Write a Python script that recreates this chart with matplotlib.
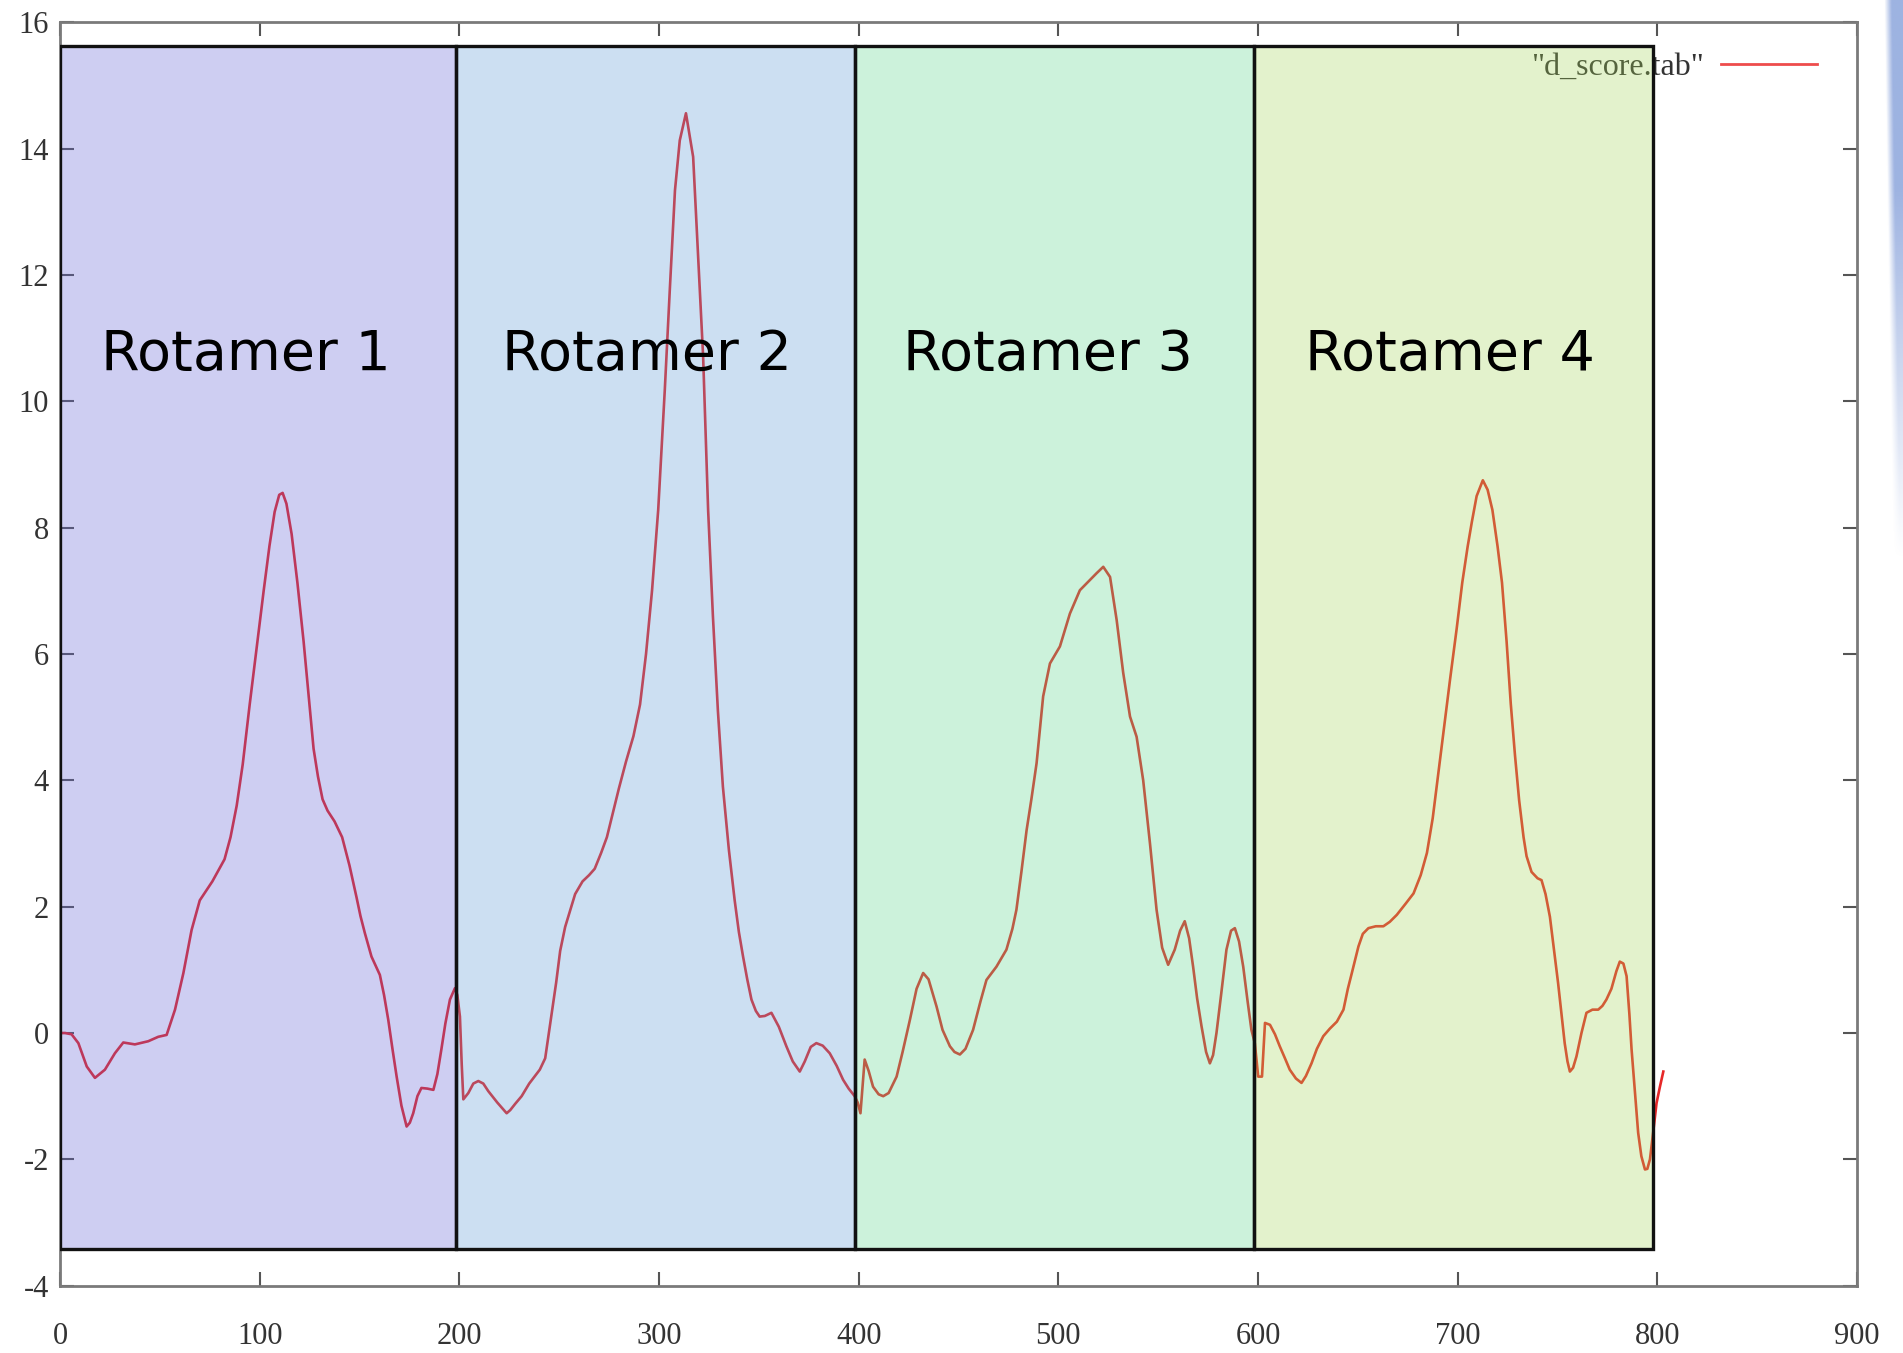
import numpy as np
import matplotlib
matplotlib.use("Agg")
import matplotlib.pyplot as plt
from matplotlib.patches import Rectangle

plt.rcParams["axes.unicode_minus"] = False

# d_score curve
x = [0, 2.5, 5.8, 9.2, 13.4, 17.5, 22.5, 27.5, 31.7, 37.5, 44.2, 49.2, 53.4, 57.6, 61.8, 65.9, 70,
     76.3, 82.4, 85.4, 88.5, 91.5, 95, 98.8, 102, 104.9, 107.5, 109.8, 111.5, 113.4, 116, 118.9, 122,
     124.9, 127, 129.2, 131.5, 134, 137.5, 141.3, 145, 148.5, 150.5, 152.7, 156, 160.2, 162.3, 164.4,
     166.5, 168.6, 171, 173.6, 175.2, 176.9, 179, 181, 184, 187, 189, 191, 193, 195.3, 197.8, 199,
     200.3, 201.2, 202, 204.5, 207, 209.5, 212, 214.5, 219, 223.7, 225.5, 228, 231.2, 235, 240.3,
     243, 245.3, 248.5, 250.5, 253, 255.6, 258, 261.7, 265, 267.8, 271, 273.9, 277, 279.9, 283.5,
     287.2, 290.5, 293.5, 296.5, 299.6, 302.9, 305.4, 308, 310.4, 313.5, 317.1, 319.6, 322.1, 324.6,
     327, 329.5, 332, 335, 337.9, 340, 342.1, 344.2, 346.3, 348.5, 350.4, 353, 356.3, 360, 363.8,
     367, 370.5, 373, 376, 378.8, 382, 385.5, 389, 392.2, 395, 398, 399.5, 400.9, 402.3, 403, 405,
     407.2, 410, 412.3, 415, 419, 422, 425.6, 429, 432.3, 435, 439, 442, 445.7, 448, 450.7, 453.5,
     457.3, 461, 464, 469, 474, 477, 479, 481.5, 484.1, 486.5, 489.1, 492.4, 495.8, 500.8, 505.8,
     510.8, 515.8, 519.2, 522.5, 525.9, 529.2, 532.5, 535.9, 539.2, 542.5, 545.9, 549.2, 552, 555,
     558.3, 561, 563.3, 565.5, 567.5, 569.5, 571.7, 574, 575.9, 577.5, 579.2, 581.5, 584.2, 586.5,
     588.4, 590.5, 592.6, 594.8, 596.7, 598.4, 600.1, 602, 603.5, 606, 608.5, 610.9, 613.5, 615.9,
     619, 621.8, 624, 626.8, 629.5, 632.7, 636, 639.5, 642.8, 645, 647, 650.3, 652.5, 655.3, 659,
     662.8, 666, 669.5, 674, 677.9, 681.5, 684.6, 687.5, 690.1, 693, 696.2, 699.5, 702.3, 705,
     707.1, 709.5, 712.6, 715, 717.4, 720, 722.2, 724.5, 726.6, 728.7, 730.8, 733, 734.5, 737, 740,
     742, 744, 746.2, 748.3, 750.3, 752, 753.6, 755, 756.2, 757.8, 759.5, 762, 764.5, 767.5, 770.4,
     772.5, 774.5, 777, 779.5, 781.2, 783, 784.6, 786, 787.1, 788.8, 790.4, 792, 793.8, 795, 796.3,
     798, 799.6, 801.3, 803]
y = [0.0, 0.0, -0.02, -0.16, -0.53, -0.71, -0.58, -0.32, -0.15, -0.18, -0.13, -0.06, -0.03, 0.37,
     0.95, 1.63, 2.1, 2.4, 2.75, 3.1, 3.6, 4.25, 5.2, 6.17, 7.0, 7.71, 8.25, 8.52, 8.55, 8.38, 7.9,
     7.13, 6.2, 5.21, 4.5, 4.06, 3.7, 3.52, 3.35, 3.1, 2.65, 2.15, 1.85, 1.58, 1.21, 0.92, 0.6, 0.21,
     -0.25, -0.69, -1.15, -1.48, -1.42, -1.27, -1.0, -0.87, -0.88, -0.9, -0.65, -0.26, 0.15, 0.53,
     0.71, 0.6, 0.26, -0.5, -1.05, -0.95, -0.8, -0.76, -0.8, -0.92, -1.1, -1.27, -1.22, -1.12, -1.0,
     -0.8, -0.58, -0.4, 0.1, 0.8, 1.3, 1.68, 1.95, 2.2, 2.4, 2.5, 2.6, 2.85, 3.1, 3.5, 3.87, 4.3,
     4.7, 5.2, 6.0, 7.0, 8.28, 10.18, 11.76, 13.34, 14.13, 14.56, 13.87, 12.29, 10.71, 8.28, 6.6,
     5.1, 3.9, 2.9, 2.1, 1.6, 1.21, 0.85, 0.53, 0.35, 0.26, 0.27, 0.32, 0.1, -0.21, -0.45, -0.61,
     -0.45, -0.22, -0.16, -0.2, -0.32, -0.52, -0.74, -0.88, -1.0, -1.1, -1.27, -0.7, -0.42, -0.6,
     -0.85, -0.97, -1.0, -0.95, -0.69, -0.3, 0.2, 0.7, 0.95, 0.85, 0.42, 0.05, -0.21, -0.3, -0.34,
     -0.25, 0.05, 0.5, 0.84, 1.05, 1.32, 1.65, 1.95, 2.55, 3.21, 3.7, 4.27, 5.33, 5.85, 6.12, 6.64,
     7.01, 7.17, 7.28, 7.38, 7.22, 6.54, 5.7, 5.01, 4.69, 4.0, 3.0, 1.95, 1.35, 1.08, 1.32, 1.62,
     1.77, 1.5, 1.05, 0.55, 0.11, -0.3, -0.48, -0.35, 0.0, 0.6, 1.32, 1.62, 1.66, 1.45, 1.05, 0.5,
     0.05, -0.16, -0.69, -0.69, 0.16, 0.13, -0.02, -0.21, -0.4, -0.58, -0.72, -0.79, -0.68, -0.48,
     -0.25, -0.05, 0.07, 0.18, 0.37, 0.7, 0.95, 1.37, 1.57, 1.66, 1.69, 1.69, 1.76, 1.87, 2.05, 2.21,
     2.5, 2.85, 3.4, 4.06, 4.8, 5.6, 6.4, 7.13, 7.7, 8.09, 8.5, 8.75, 8.6, 8.28, 7.7, 7.13, 6.2,
     5.21, 4.4, 3.68, 3.1, 2.8, 2.55, 2.45, 2.42, 2.2, 1.84, 1.3, 0.79, 0.3, -0.16, -0.45, -0.61,
     -0.55, -0.37, 0.0, 0.32, 0.37, 0.37, 0.43, 0.53, 0.7, 0.98, 1.13, 1.1, 0.9, 0.3, -0.26, -0.95,
     -1.58, -1.95, -2.16, -2.15, -2.0, -1.55, -1.11, -0.85, -0.61]

# rotamer regions
region_labels = ["Rotamer 1", "Rotamer 2", "Rotamer 3", "Rotamer 4"]
region_edges = [0, 198.5, 398, 598, 798]
region_colors = [(95, 95, 212), (88, 152, 215), (88, 215, 138), (165, 215, 88)]
label_x = [93, 294, 495, 696]

xticks = [0, 100, 200, 300, 400, 500, 600, 700, 800, 900]
yticks = [-4, -2, 0, 2, 4, 6, 8, 10, 12, 14, 16]

fig = plt.figure(figsize=(19.03, 13.53), dpi=100)
ax = fig.add_axes([60 / 1903, 67.3 / 1353, 1797 / 1903, 1263.4 / 1353])

ax.plot(x, y, color="#e62828", lw=1.9, zorder=3, label='"d_score.tab"')

for i, lab in enumerate(region_labels):
    c = [v / 255 for v in region_colors[i]]
    rect = Rectangle((region_edges[i], -3.42), region_edges[i + 1] - region_edges[i], 15.62 + 3.42,
                     facecolor=(c[0], c[1], c[2], 0.3), edgecolor="#111111", lw=2.4, zorder=5)
    ax.add_patch(rect)
    ax.text(label_x[i], 10.5, lab, fontsize=40, family="DejaVu Sans", color="black",
            ha="center", va="baseline", zorder=6)

ax.set_xlim(0, 900)
ax.set_ylim(-4, 16)
ax.set_xticks(xticks)
ax.set_yticks(yticks)
for s in ax.spines.values():
    s.set_color("#7a7a7a")
    s.set_linewidth(2)
ax.tick_params(direction="in", top=True, right=True, length=10, width=1.5, color="#555555",
               labelsize=22, labelcolor="#333333")
ax.tick_params(axis="x", pad=26)
ax.tick_params(axis="y", pad=8)
for t in ax.get_xticklabels() + ax.get_yticklabels():
    t.set_family("Liberation Serif")

leg = ax.legend(loc="center right", bbox_to_anchor=(0.9777, 0.9646), frameon=False,
                markerfirst=False, handlelength=3.0, handletextpad=0.55, borderpad=0,
                borderaxespad=0, prop={"family": "Liberation Serif", "size": 23})
leg.set_zorder(4)
for t in leg.get_texts():
    t.set_color("#333333")
for h in leg.get_lines():
    h.set_color("#ee4c4c")
    h.set_linewidth(2)

# bluish strip at the right edge of the screenshot
strip = fig.add_axes([1884 / 1903, 1 - 560 / 1353, 19 / 1903, 560 / 1353])
gx = np.linspace(0, 1, 20)[None, :]
gy = np.linspace(1, 0, 120)[:, None]
img = np.zeros((120, 20, 4))
img[..., 0] = 140 / 255
img[..., 1] = 165 / 255
img[..., 2] = 220 / 255
img[..., 3] = np.clip((gx - (1 - gy) * 0.5) * 2.5, 0, 1) * np.clip(gy * 1.5, 0, 1) * 0.85
strip.imshow(img, aspect="auto", interpolation="bilinear")
strip.axis("off")

fig.savefig("out.png", dpi=100)
